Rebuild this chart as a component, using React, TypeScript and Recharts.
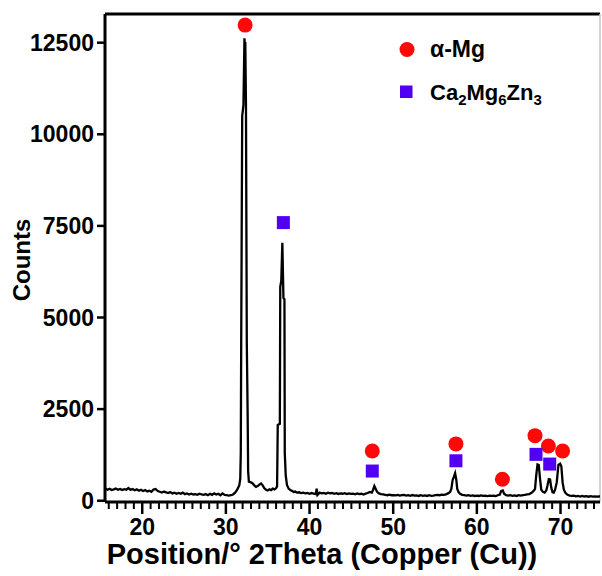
import React from 'react';
import { ComposedChart, Line, Scatter, XAxis, YAxis, ReferenceLine } from 'recharts';

// XRD scan: [2theta, counts]
const xrdScan: [number, number][] = [
  [15.6, 330], [15.85, 300], [16.1, 325], [16.35, 290], [16.6, 310], [16.85, 335], [17.1, 300], [17.35, 320],
  [17.6, 290], [17.85, 315], [18.1, 300], [18.35, 345], [18.6, 295], [18.85, 320], [19.1, 285], [19.35, 310],
  [19.6, 275], [19.85, 300], [20.1, 265], [20.35, 290], [20.6, 255], [20.85, 275], [21.1, 245], [21.35, 305],
  [21.6, 320], [21.85, 265], [22.1, 245], [22.35, 225], [22.6, 250], [22.85, 230], [23.1, 210], [23.35, 235],
  [23.6, 200], [23.85, 220], [24.1, 190], [24.35, 210], [24.6, 190], [24.85, 220], [25.1, 180], [25.35, 200],
  [25.6, 170], [25.85, 190], [26.1, 170], [26.35, 180], [26.6, 160], [26.85, 190], [27.1, 170], [27.35, 160],
  [27.6, 180], [27.85, 150], [28.1, 190], [28.35, 160], [28.6, 200], [28.85, 170], [29.1, 190], [29.35, 150],
  [29.6, 200], [29.85, 160], [30.1, 150], [30.35, 140], [30.6, 150], [30.85, 170], [31.1, 220], [31.35, 300],
  [31.6, 420],
  // main alpha-Mg peak
  [31.72, 600], [31.78, 1300], [31.83, 4250], [31.95, 10500], [32.1, 10800], [32.22, 12620], [32.27, 12380],
  [32.32, 12520], [32.4, 10850], [32.5, 4300], [32.6, 2400], [32.66, 800], [32.75, 520],
  [33.0, 500], [33.2, 470], [33.4, 420], [33.6, 380], [33.8, 400], [34.0, 440], [34.2, 470], [34.4, 420],
  [34.6, 340], [34.8, 300], [35.0, 280], [35.2, 310], [35.4, 290], [35.6, 330], [35.8, 310], [36.0, 340],
  [36.12, 390],
  // second peak
  [36.2, 2070], [36.45, 2100], [36.5, 5840], [36.62, 6000], [36.75, 7040], [36.88, 5530], [37.0, 5500],
  [37.04, 1300], [37.15, 700], [37.3, 430],
  [37.5, 330], [37.7, 290], [37.9, 270], [38.1, 240], [38.3, 250], [38.5, 220], [38.75, 230], [39.0, 210],
  [39.25, 220], [39.5, 200], [39.75, 210], [40.0, 190], [40.25, 210], [40.5, 195], [40.75, 180], [40.85, 330],
  [40.95, 160], [41.2, 220], [41.45, 200], [41.7, 210], [41.95, 190], [42.2, 220], [42.45, 200], [42.7, 210],
  [42.95, 190], [43.2, 205], [43.45, 185], [43.7, 200], [43.95, 190], [44.2, 205], [44.45, 180], [44.7, 200],
  [44.95, 185], [45.2, 195], [45.45, 175], [45.7, 200], [45.95, 180], [46.2, 190], [46.45, 170], [46.7, 195],
  [46.95, 210], [47.2, 240], [47.45, 220], [47.6, 300], [47.75, 400], [47.9, 330], [48.05, 250], [48.3, 200],
  [48.55, 180], [48.8, 170], [49.05, 160], [49.3, 150], [49.55, 165], [49.8, 150], [50.05, 155], [50.3, 145],
  [50.55, 160], [50.8, 140], [51.05, 150], [51.3, 160], [51.55, 140], [51.8, 150], [52.05, 135], [52.3, 155],
  [52.55, 140], [52.8, 145], [53.05, 130], [53.3, 150], [53.55, 135], [53.8, 145], [54.05, 130], [54.3, 150],
  [54.55, 135], [54.8, 140], [55.05, 150], [55.3, 160], [55.55, 150], [55.8, 165], [56.05, 160], [56.3, 175],
  [56.55, 200], [56.8, 240], [56.95, 320], [57.1, 560], [57.25, 650], [57.4, 750], [57.55, 560], [57.65, 330],
  [57.8, 240], [58.0, 190], [58.25, 160], [58.5, 150], [58.75, 140], [59.0, 150], [59.25, 135], [59.5, 145],
  [59.75, 130], [60.0, 140], [60.25, 130], [60.5, 145], [60.75, 130], [61.0, 135], [61.25, 125], [61.5, 140],
  [61.75, 130], [62.0, 135], [62.25, 125], [62.5, 150], [62.75, 170], [62.9, 260], [63.1, 280], [63.25, 190],
  [63.5, 150], [63.75, 140], [64.0, 150], [64.25, 135], [64.5, 145], [64.75, 130], [65.0, 150], [65.25, 140],
  [65.5, 155], [65.75, 160], [66.0, 170], [66.25, 180], [66.5, 210], [66.75, 260], [66.95, 320], [67.1, 700],
  [67.25, 990], [67.4, 975], [67.55, 600], [67.7, 300], [67.9, 240], [68.1, 220], [68.3, 280], [68.45, 420],
  [68.6, 590], [68.75, 580], [68.9, 350], [69.05, 230], [69.2, 220], [69.35, 300], [69.55, 500], [69.75, 980],
  [69.95, 1010], [70.1, 940], [70.25, 500], [70.4, 300], [70.6, 210], [70.85, 160], [71.1, 140], [71.35, 130],
  [71.6, 140], [71.85, 120], [72.1, 130], [72.35, 115], [72.6, 130], [72.85, 115], [73.1, 125], [73.35, 110],
  [73.6, 125], [73.85, 110], [74.1, 120], [74.35, 110], [74.6, 120], [74.72, 115],
];

// phase markers (position, height of the marker)
const mgPeaks = [32.3, 47.5, 57.5, 63.05, 66.95, 68.55, 70.25];
const mgMarkY = [12980, 1355, 1550, 585, 1775, 1495, 1355];
const cmzPeaks = [36.87, 47.5, 57.5, 67.07, 68.71];
const cmzMarkY = [7590, 810, 1090, 1265, 1000];

const xTicks = [
  16, 17, 18, 19, 20, 21, 22, 23, 24, 25, 26, 27, 28, 29, 30, 31, 32, 33, 34, 35, 36, 37, 38, 39, 40,
  41, 42, 43, 44, 45, 46, 47, 48, 49, 50, 51, 52, 53, 54, 55, 56, 57, 58, 59, 60, 61, 62, 63, 64, 65,
  66, 67, 68, 69, 70, 71, 72, 73, 74,
];
const yTicks = [0, 2500, 5000, 7500, 10000, 12500];

const X_MIN = 15.55;
const X_MAX = 74.72;
const Y_MIN = -35;
const Y_MAX = 13283;

const FONT = '"Liberation Sans", Arial, sans-serif';
const RED = '#FF0808';
const BLUE = '#5200F2';

const scan = xrdScan.map(([x, y]) => ({ x, y }));
const mgData = mgPeaks.map((x, i) => ({ x, y: mgMarkY[i] }));
const cmzData = cmzPeaks.map((x, i) => ({ x, y: cmzMarkY[i] }));

function XTick({ x, y, payload }: any) {
  const v = payload.value;
  const major = v % 10 === 0;
  return (
    <g>
      <line x1={x} x2={x} y1={y} y2={y + (major ? 12 : 7)} stroke="#000" strokeWidth={major ? 2.5 : 2} />
      {major && (
        <text x={x} y={y + 33} textAnchor="middle" fontSize={23} fontWeight={700} fontFamily={FONT} fill="#000">
          {v}
        </text>
      )}
    </g>
  );
}

const XTitle = () => (
  <text x={322} y={564} textAnchor="middle" fontSize={29} fontWeight={700} fontFamily={FONT} fill="#000">
    Position/° 2Theta (Copper (Cu))
  </text>
);

const YTitle = () => (
  <text
    x={30}
    y={260}
    transform="rotate(-90, 30, 260)"
    textAnchor="middle"
    fontSize={24}
    fontWeight={700}
    fontFamily={FONT}
    fill="#000"
  >
    Counts
  </text>
);

const Dot = ({ cx, cy }: any) => <circle cx={cx} cy={cy} r={7.5} fill={RED} />;
const Square = ({ cx, cy }: any) => <rect x={cx - 6.5} y={cy - 6.5} width={13} height={13} fill={BLUE} />;

export default function App() {
  return (
    <div style={{ position: 'absolute', left: 0, top: 0, width: 602, height: 576, background: '#fff' }}>
      <ComposedChart width={602} height={576} margin={{ top: 14, right: 2, bottom: 0, left: 0 }}>
        <XAxis
          type="number"
          dataKey="x"
          domain={[X_MIN, X_MAX]}
          allowDataOverflow
          ticks={xTicks}
          interval={0}
          height={74}
          tickSize={0}
          tickMargin={0}
          tickLine={false}
          tick={<XTick />}
          axisLine={{ stroke: '#000', strokeWidth: 3 }}
          label={<XTitle />}
        />
        <YAxis
          type="number"
          domain={[Y_MIN, Y_MAX]}
          allowDataOverflow
          ticks={yTicks}
          interval={0}
          width={105}
          tickSize={8}
          tickMargin={3}
          tickLine={{ stroke: '#000', strokeWidth: 2.5 }}
          axisLine={{ stroke: '#000', strokeWidth: 3 }}
          tick={{ fill: '#000', fontSize: 23, fontWeight: 700, fontFamily: FONT }}
          label={<YTitle />}
        />
        <ReferenceLine y={Y_MAX} stroke="#000" strokeWidth={3} />
        <ReferenceLine x={X_MAX} stroke="#c4c4c4" strokeWidth={1.5} />
        <Line
          data={scan}
          dataKey="y"
          type="linear"
          stroke="#000"
          strokeWidth={2.3}
          dot={false}
          activeDot={false}
          isAnimationActive={false}
        />
        <Scatter data={mgData} dataKey="y" shape={<Dot />} isAnimationActive={false} />
        <Scatter data={cmzData} dataKey="y" shape={<Square />} isAnimationActive={false} />
      </ComposedChart>
      <svg
        width={602}
        height={576}
        style={{ position: 'absolute', left: 0, top: 0, pointerEvents: 'none' }}
      >
        <circle cx={407} cy={49.5} r={7.5} fill={RED} />
        <text x={430} y={57} fontSize={23} fontWeight={700} fontFamily={FONT} fill="#000">
          α-Mg
        </text>
        <rect x={400} y={85.5} width={12.5} height={12.5} fill={BLUE} />
        <text x={430} y={100} fontSize={22} fontWeight={700} fontFamily={FONT} fill="#000">
          Ca<tspan dy={5} fontSize={15}>2</tspan>
          <tspan dy={-5}>Mg</tspan>
          <tspan dy={5} fontSize={15}>6</tspan>
          <tspan dy={-5}>Zn</tspan>
          <tspan dy={5} fontSize={15}>3</tspan>
        </text>
      </svg>
    </div>
  );
}
